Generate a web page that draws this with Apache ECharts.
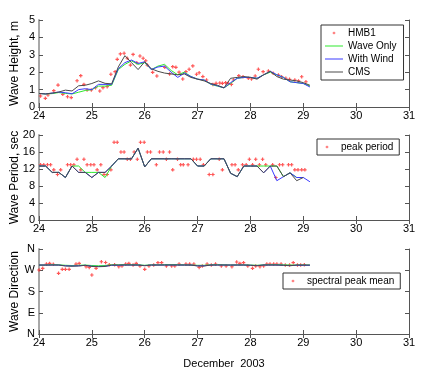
<!DOCTYPE html>
<html>
<head>
<meta charset="utf-8">
<script src="https://cdn.jsdelivr.net/npm/echarts@6/dist/echarts.min.js"></script>
<style>
html, body { margin: 0; padding: 0; background: #fff; }
#chart { width: 432px; height: 377px; }
</style>
</head>
<body>
<div id="chart"></div>
<script>
// model output times, every 3 hours (day of December 2003)
var lineTimes = [24.000, 24.125, 24.250, 24.375, 24.500, 24.625, 24.750, 24.875,
    25.000, 25.125, 25.250, 25.375, 25.500, 25.625, 25.750, 25.875,
    26.000, 26.125, 26.250, 26.375, 26.500, 26.625, 26.750, 26.875,
    27.000, 27.125, 27.250, 27.375, 27.500, 27.625, 27.750, 27.875,
    28.000, 28.125, 28.250, 28.375, 28.500, 28.625, 28.750, 28.875,
    29.000, 29.125];

// wave height, m
var heightCms = [0.78, 0.75, 0.80, 0.86, 0.97, 0.92, 1.22, 1.25, 1.35, 1.50, 1.36, 1.33,
    2.30, 2.95, 2.55, 2.15, 2.60, 2.20, 2.05, 1.95, 1.90, 1.85, 1.90, 1.70,
    1.60, 1.50, 1.35, 1.25, 1.10, 1.65, 1.70, 1.75, 1.70, 1.60, 1.85, 2.05,
    1.75, 1.60, 1.55, 1.50, 1.40, 1.25];
var heightWave = [0.78, 0.75, 0.77, 0.83, 0.78, 0.75, 0.85, 0.95, 1.00, 1.20, 1.20, 1.25,
    2.15, 2.45, 2.65, 2.45, 2.55, 2.15, 2.35, 2.45, 2.10, 1.85, 2.00, 1.75,
    1.60, 1.55, 1.30, 1.20, 1.10, 1.35, 1.65, 1.70, 1.70, 1.65, 1.85, 2.00,
    1.85, 1.70, 1.45, 1.40, 1.35, 1.20];
var heightWind = [0.78, 0.75, 0.80, 0.86, 0.82, 0.76, 1.00, 1.05, 1.00, 1.30, 1.30, 1.30,
    2.20, 2.55, 2.70, 2.50, 2.60, 2.15, 2.30, 2.35, 2.00, 1.70, 1.95, 1.75,
    1.60, 1.55, 1.32, 1.22, 1.10, 1.40, 1.65, 1.70, 1.70, 1.65, 1.85, 2.05,
    1.85, 1.70, 1.45, 1.40, 1.35, 1.15];

// buoy HMB1 wave height
var hmbTimes = [24.03, 24.12, 24.17, 24.28, 24.36, 24.45, 24.54, 24.61, 24.72, 24.79,
    24.85, 24.91, 24.99, 25.07, 25.15, 25.21, 25.29, 25.36, 25.44, 25.48,
    25.54, 25.61, 25.67, 25.73, 25.78, 25.85, 25.91, 25.97, 26.02, 26.05,
    26.15, 26.23, 26.38, 26.47, 26.53, 26.59, 26.65, 26.72, 26.78, 26.84,
    26.91, 26.98, 27.03, 27.10, 27.17, 27.29, 27.35, 27.42, 27.47, 27.53,
    27.58, 27.64, 27.68, 27.78, 27.86, 27.96, 28.02, 28.09, 28.15, 28.24,
    28.34, 28.43, 28.53, 28.59, 28.67, 28.74, 28.84, 28.91, 28.97, 29.05];
var hmbHeight = [0.63, 0.50, 0.69, 0.94, 1.26, 0.73, 0.59, 0.54, 1.51, 1.80,
    1.30, 0.98, 0.98, 1.11, 0.92, 1.11, 1.17, 1.88, 2.03, 2.74,
    3.05, 3.09, 2.80, 2.41, 3.02, 2.55, 2.93, 2.80, 2.66, 2.41,
    1.99, 1.78, 2.28, 1.90, 2.32, 2.28, 2.00, 1.61, 2.03, 2.17,
    2.36, 1.88, 1.97, 1.75, 1.55, 1.30, 1.36, 1.38, 1.36, 1.40,
    1.36, 1.30, 1.55, 1.80, 1.74, 1.65, 1.61, 1.78, 2.17, 2.03,
    2.07, 1.94, 1.84, 1.74, 1.65, 1.59, 1.55, 1.50, 1.74, 1.45];

// wave period, sec
var periodCms = [12.7, 12.7, 11.2, 11.2, 10.0, 12.7, 11.2, 11.2, 10.0, 11.2, 11.2, 12.7,
    14.4, 14.4, 14.4, 16.9, 12.5, 14.4, 14.4, 14.4, 14.4, 14.4, 14.4, 14.4,
    12.7, 12.7, 14.4, 14.4, 14.4, 11.0, 10.2, 12.7, 12.7, 12.7, 11.1, 12.7,
    12.7, 10.2, 11.1, 9.25, 10.0, null];
var periodWave = [12.7, 12.7, 11.2, 11.2, 10.0, 12.7, 12.7, 11.2, 11.2, 11.2, 10.0, 12.7,
    14.4, 14.4, 14.4, 16.9, 12.5, 14.4, 14.4, 14.4, 14.4, 14.4, 14.4, 14.4,
    12.7, 12.7, 14.4, 14.4, 14.4, 11.0, 10.2, 12.7, 12.7, 12.7, 12.7, 12.7,
    12.7, 10.2, 11.1, 10.0, 10.0, null];
var periodWind = [12.7, 12.7, 11.2, 11.2, 10.0, 12.7, 11.2, 11.2, 10.0, 11.2, 11.2, 12.7,
    14.4, 14.4, 14.4, 16.9, 12.5, 14.4, 14.4, 14.4, 14.4, 14.4, 14.4, 14.4,
    12.7, 12.7, 14.4, 14.4, 14.4, 11.0, 10.2, 12.7, 12.7, 12.7, 11.1, 12.7,
    9.25, 10.2, 11.1, 10.0, 10.0, 9.0];

// buoy peak period
var peakTimes = [24.03, 24.09, 24.16, 24.22, 24.28, 24.35, 24.41, 24.54, 24.60, 24.66,
    24.72, 24.79, 24.85, 24.91, 24.98, 25.04, 25.10, 25.17, 25.23, 25.29,
    25.36, 25.42, 25.48, 25.55, 25.61, 25.67, 25.73, 25.80, 25.86, 25.92,
    25.99, 26.05, 26.11, 26.22, 26.28, 26.35, 26.41, 26.47, 26.53, 26.62,
    26.68, 26.73, 26.82, 26.92, 26.98, 27.05, 27.11, 27.22, 27.29, 27.41,
    27.47, 27.65, 27.71, 27.77, 27.85, 27.92, 27.98, 28.04, 28.10, 28.17,
    28.23, 28.29, 28.42, 28.48, 28.55, 28.61, 28.72, 28.78, 28.84, 28.90,
    28.97, 29.03];
var peakPeriod = [13.0, 13.0, 13.0, 13.0, 11.8, 10.7, 11.8, 13.0, 13.0, 13.0,
    14.3, 11.8, 14.3, 13.0, 13.0, 13.0, 11.8, 13.0, 10.7, 10.7,
    11.8, 18.3, 18.3, 16.0, 16.0, 14.3, 14.3, 16.0, 14.3, 18.3,
    18.3, 16.0, 16.0, 13.0, 16.0, 16.0, 14.3, 16.0, 11.8, 14.3,
    13.0, 13.0, 13.0, 14.3, 14.3, 14.3, 13.0, 10.7, 10.7, 14.3,
    11.8, 13.0, 13.0, 11.8, 13.0, 13.0, 14.3, 13.0, 14.3, 13.0,
    14.3, 13.0, 13.0, 10.0, 13.0, 13.0, 13.0, 13.0, 11.8, 11.8,
    11.8, 11.8];

// wave direction, degrees
var dirCms = [292, 292, 292, 292, 288, 287, 288, 291, 286, 285, 286, 292,
    292, 292, 292, 292, 289, 292, 292, 292, 292, 292, 292, 292,
    288, 288, 292, 292, 292, 292, 292, 292, 291, 289, 292, 292,
    292, 291, 289, 292, 292, 292];
var dirWave = [292, 292, 294, 293, 291, 290, 291, 292, 290, 289, 290, 293,
    293, 294, 294, 293, 291, 293, 293, 294, 294, 294, 293, 292,
    291, 291, 293, 294, 293, 292, 293, 293, 292, 291, 293, 294,
    294, 293, 292, 292, 292, 292];
var dirWind = [292, 292, 292, 292, 289, 288, 289, 291, 287, 286, 287, 291,
    291, 292, 292, 292, 290, 292, 292, 292, 292, 292, 292, 292,
    289, 289, 292, 292, 292, 292, 292, 292, 291, 290, 292, 292,
    292, 291, 290, 291, 291, 291];

// buoy spectral peak mean direction
var specTimes = [24.00, 24.07, 24.14, 24.20, 24.27, 24.37, 24.44, 24.50, 24.57, 24.70,
    24.76, 24.89, 24.95, 25.00, 25.08, 25.18, 25.26, 25.33, 25.43, 25.51,
    25.57, 25.64, 25.70, 25.78, 25.84, 25.91, 26.00, 26.08, 26.17, 26.25,
    26.32, 26.41, 26.51, 26.57, 26.65, 26.78, 26.85, 26.93, 27.03, 27.09,
    27.18, 27.26, 27.34, 27.45, 27.54, 27.65, 27.74, 27.80, 27.87, 27.95,
    28.04, 28.10, 28.18, 28.25, 28.31, 28.37, 28.44, 28.50, 28.58, 28.66,
    28.74, 28.81, 28.89, 28.95, 29.02];
var specDir = [271, 278, 296, 299, 295, 257, 274, 274, 274, 296,
    299, 285, 282, 250, 278, 306, 303, 293, 293, 285,
    288, 296, 299, 292, 299, 288, 274, 288, 292, 302,
    302, 288, 288, 288, 296, 296, 296, 296, 282, 288,
    296, 292, 296, 288, 288, 285, 305, 299, 302, 288,
    278, 288, 285, 288, 296, 296, 296, 296, 296, 292,
    292, 302, 292, 292, 293];

var dirLabels = {0: 'N', 90: 'E', 180: 'S', 270: 'W', 360: 'N'};

function pairs(xs, ys) {
    var out = [];
    for (var i = 0; i < xs.length; i++) {
        out.push([xs[i], ys[i]]);
    }
    return out;
}

var FONT = 'Liberation Sans, Arial, sans-serif';
var AXIS_COL = '#555';
var DOT = 'path://M1,0h1v1h1v1h-1v1h-1v-1h-1v-1h1z';
// legend icons: extra moveTo points pad the box so the mark stays small
var DOT_ICON = 'path://M0,0M9,9M4,3h1v1h1v1h-1v1h-1v-1h-1v-1h1z';
var LINE_ICON = 'path://M0,0M18,8M0,3.5h18v1h-18z';
var RED = '#ff2a2a';
var GREEN = '#2ee82e';
var BLUE = '#3a3aff';
var GRAY = '#4a4a4a';

var panels = [
    {top: 20, height: 87, min: 0, max: 5, interval: 1, name: 'Wave Height, m'},
    {top: 135, height: 85, min: 0, max: 20, interval: 4, name: 'Wave Period, sec'},
    {top: 249, height: 85, min: 0, max: 360, interval: 90, name: 'Wave Direction'}
];

var grids = [], xAxes = [], yAxes = [];
panels.forEach(function(p, i) {
    grids.push({left: 39, right: 23, top: p.top, height: p.height,
        containLabel: false, outerBoundsMode: 'none'});
    // bottom x axis with labels
    xAxes.push({
        type: 'value', gridIndex: i, min: 24, max: 31, interval: 1, position: 'bottom',
        axisLine: {lineStyle: {color: AXIS_COL, width: 1}},
        axisTick: {inside: true, length: 4, lineStyle: {color: AXIS_COL}},
        axisLabel: {color: '#000', fontSize: 11, fontFamily: FONT, margin: 3},
        splitLine: {show: false},
        name: i == 2 ? 'December  2003' : '',
        nameLocation: 'middle', nameGap: 24, nameMoveOverlap: false,
        nameTextStyle: {color: '#000', fontSize: 11, fontFamily: FONT}
    });
    // top x axis, ticks only
    xAxes.push({
        type: 'value', gridIndex: i, min: 24, max: 31, interval: 1, position: 'top',
        axisLine: {lineStyle: {color: AXIS_COL, width: 1}},
        axisTick: {inside: true, length: 4, lineStyle: {color: AXIS_COL}},
        axisLabel: {show: false},
        splitLine: {show: false}
    });
    yAxes.push({
        type: 'value', gridIndex: i, min: p.min, max: p.max, interval: p.interval, position: 'left',
        axisLine: {show: true, lineStyle: {color: '#a8a8a8', width: 2}},
        axisTick: {show: true, inside: true, length: 4, lineStyle: {color: AXIS_COL}},
        axisLabel: {
            color: '#000', fontSize: 11, fontFamily: FONT, margin: 4,
            formatter: i == 2 ? function(v) { return dirLabels[v]; } : null
        },
        splitLine: {show: false},
        name: p.name, nameLocation: 'middle', nameRotate: 90, nameGap: 18,
        nameMoveOverlap: false,
        nameTextStyle: {color: '#000', fontSize: 12, fontFamily: FONT}
    });
    yAxes.push({
        type: 'value', gridIndex: i, min: p.min, max: p.max, interval: p.interval, position: 'right',
        axisLine: {show: true, lineStyle: {color: AXIS_COL, width: 1}},
        axisTick: {show: true, inside: true, length: 4, lineStyle: {color: AXIS_COL}},
        axisLabel: {show: false},
        splitLine: {show: false}
    });
});

function lineSeries(name, panel, ys, color) {
    return {
        name: name, type: 'line', xAxisIndex: panel * 2, yAxisIndex: panel * 2,
        data: pairs(lineTimes, ys), symbol: 'none', connectNulls: false,
        lineStyle: {color: color, width: 1}, itemStyle: {color: color},
        animation: false, silent: true
    };
}

function dotSeries(name, panel, xs, ys) {
    return {
        name: name, type: 'scatter', xAxisIndex: panel * 2, yAxisIndex: panel * 2,
        data: pairs(xs, ys), symbol: DOT, symbolSize: 3.5,
        itemStyle: {color: RED}, animation: false, silent: true
    };
}

var series = [
    dotSeries('HMB1', 0, hmbTimes, hmbHeight),
    lineSeries('Wave Only', 0, heightWave, GREEN),
    lineSeries('With Wind', 0, heightWind, BLUE),
    lineSeries('CMS', 0, heightCms, GRAY),
    lineSeries('Wave Only', 1, periodWave, GREEN),
    lineSeries('With Wind', 1, periodWind, BLUE),
    lineSeries('CMS', 1, periodCms, GRAY),
    dotSeries('peak period', 1, peakTimes, peakPeriod),
    lineSeries('Wave Only', 2, dirWave, GREEN),
    lineSeries('With Wind', 2, dirWind, BLUE),
    lineSeries('CMS', 2, dirCms, GRAY),
    dotSeries('spectral peak mean', 2, specTimes, specDir)
];

var legendBase = {
    orient: 'vertical', backgroundColor: '#fff', borderColor: '#333', borderWidth: 1,
    borderRadius: 0, itemWidth: 18, itemHeight: 8, itemGap: 3, selectedMode: false,
    textStyle: {color: '#000', fontSize: 10, fontFamily: FONT}
};

var legends = [
    Object.assign({}, legendBase, {
        left: 321, top: 25, padding: [3, 7, 3, 4],
        data: [{name: 'HMB1', icon: DOT_ICON},
            {name: 'Wave Only', icon: LINE_ICON},
            {name: 'With Wind', icon: LINE_ICON},
            {name: 'CMS', icon: LINE_ICON}]
    }),
    Object.assign({}, legendBase, {
        left: 317, top: 139, padding: [3, 6, 3, 6],
        data: [{name: 'peak period', icon: DOT_ICON}]
    }),
    Object.assign({}, legendBase, {
        left: 283, top: 273, padding: [3, 6, 3, 6],
        data: [{name: 'spectral peak mean', icon: DOT_ICON}]
    })
];

var chart = echarts.init(document.getElementById('chart'), null, {renderer: 'canvas'});
chart.setOption({
    backgroundColor: '#fff',
    animation: false,
    grid: grids,
    xAxis: xAxes,
    yAxis: yAxes,
    legend: legends,
    series: series
});
</script>
</body>
</html>
